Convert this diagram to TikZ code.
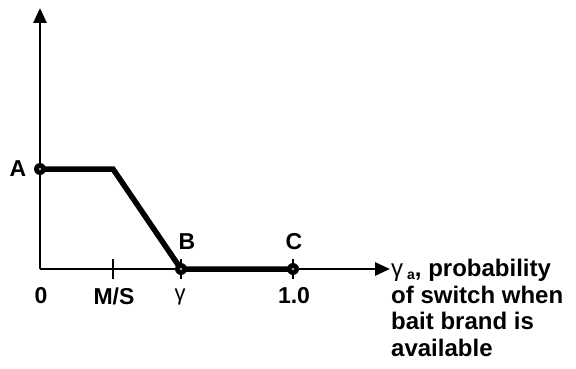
\documentclass[tikz,border=0pt]{standalone}
\usepackage{fontspec}
\setmainfont{Liberation Sans}
\usetikzlibrary{arrows.meta}
\tikzset{
  axis/.style={line width=2.8pt, -{Triangle[length=15pt,width=13pt]}},
  curve/.style={line width=5.5pt, line join=miter},
  pt/.style={circle, fill=black, inner sep=0pt, minimum size=12pt,
    path picture={\fill[gray!60] (path picture bounding box.center) circle (1.3pt);}},
  tick/.style={line width=2.5pt},
  lbl/.style={font=\fontsize{23}{26}\selectfont\bfseries, inner sep=1pt},
  desc/.style={font=\fontsize{24}{26.5}\selectfont\bfseries, inner sep=0pt},
}
\begin{document}
\begin{tikzpicture}[x=1pt,y=-1pt]
  \useasboundingbox (0,0) rectangle (576,369);
  % axes
  \coordinate (O) at (40,269);
  \coordinate (ytop) at (40,8);
  \coordinate (xend) at (390,269);
  \draw[axis] (O) -- (ytop);
  \draw[axis] (O) -- (xend);
  % ticks
  \foreach \tx/\tn in {113/tm,181/tg,293/tc} {
    \coordinate (\tn1) at (\tx,259);
    \coordinate (\tn2) at (\tx,279);
    \draw[tick] (\tn1) -- (\tn2);
  }
  % the curve
  \coordinate (A0) at (40,169);
  \coordinate (K) at (113,169);
  \coordinate (B0) at (181,269);
  \coordinate (C0) at (293,269);
  \draw[curve] (A0) -- (K) -- (B0) -- (C0);
  \node[pt] (A) at (A0) {};
  \node[pt] (B) at (B0) {};
  \node[pt] (C) at (C0) {};
  % labels
  \node[lbl] (Al) at (18,169) {A};
  \node[lbl] (Bl) at (187,242) {B};
  \node[lbl] (Cl) at (294,242) {C};
  \node[lbl] (l0) at (41,296) {0};
  \node[lbl] (lMS) at (114,296) {M/S};
  \node[lbl, font=\fontsize{22}{24}\selectfont] (lg) at (180,297) {γ};
  \node[lbl] (l1) at (294,296) {1.0};
  \node[desc, anchor=north west, align=left] (dsc) at (391,259)
    {{\mdseries γ}\,\raisebox{-3pt}{\fontsize{14}{14}\selectfont a}, probability\\of switch when\\bait brand is\\available};
\end{tikzpicture}
\end{document}
